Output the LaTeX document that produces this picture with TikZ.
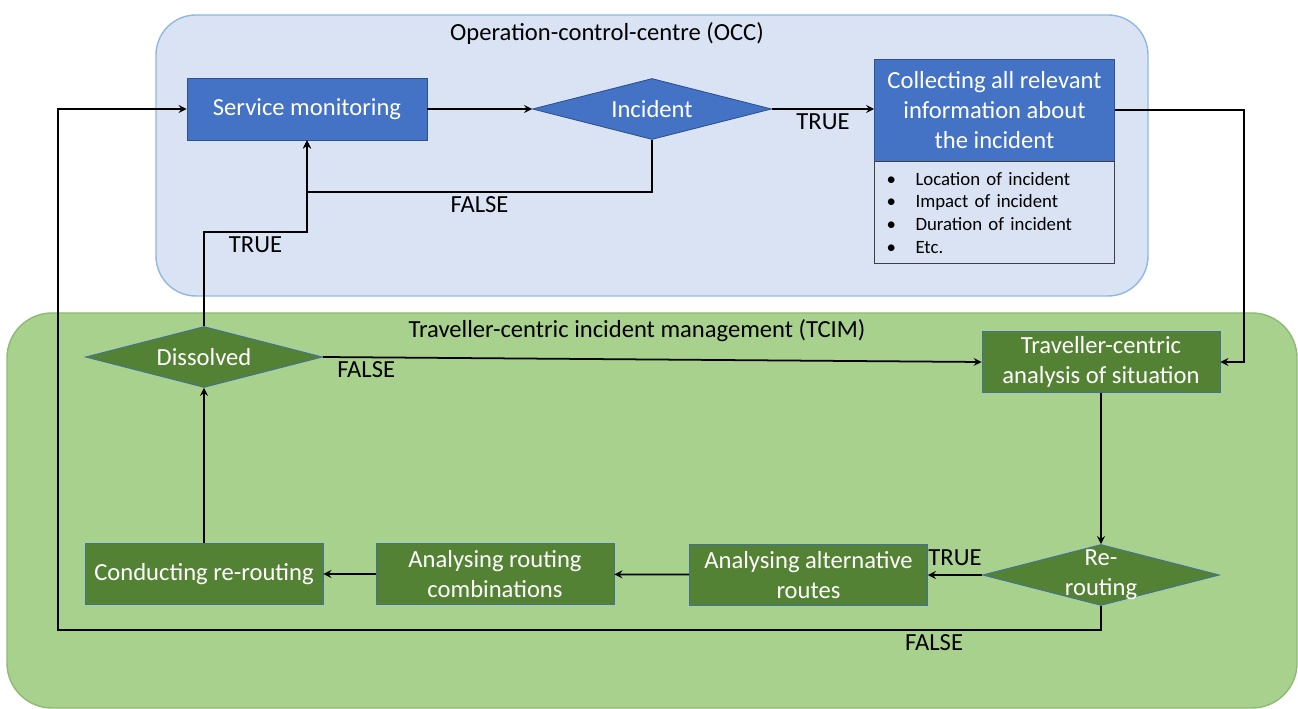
\documentclass[tikz,border=0pt]{standalone}
\usepackage{fontspec}
\setmainfont{Carlito}
\usetikzlibrary{arrows, shapes.geometric, positioning}

\definecolor{occfill}{HTML}{DAE3F3}
\definecolor{occline}{HTML}{8FB8E2}
\definecolor{tcimfill}{HTML}{A9D18E}
\definecolor{tcimline}{HTML}{8DBB72}
\definecolor{bluebox}{HTML}{4472C4}
\definecolor{blueline}{HTML}{2F528F}
\definecolor{greenbox}{HTML}{548235}
\definecolor{greenline}{HTML}{41719C}

\begin{document}
\begin{tikzpicture}[
                > = stealth, % arrow head style
                x = 0.02cm, y = -0.02cm, % one unit = one pixel of the sketch
                line width = 1pt, % line style
                font = \fontsize{14}{17}\selectfont
            ]

            \tikzstyle{occbox}=[draw = blueline, fill = bluebox, text = white,
            line width = 0.5pt, align = center, inner sep = 2pt,
            minimum width = 4.8cm, minimum height = 1.24cm]
            \tikzstyle{occdia}=[draw = blueline, fill = bluebox, diamond,
            line width = 0.5pt, inner sep = 0pt,
            minimum width = 4.78cm, minimum height = 1.22cm]
            \tikzstyle{tcimbox}=[draw = greenline, fill = greenbox, text = white,
            line width = 0.5pt, align = center, inner sep = 2pt,
            minimum width = 4.76cm, minimum height = 1.22cm]
            \tikzstyle{tcimdia}=[draw = greenline, fill = greenbox, diamond,
            line width = 0.5pt, inner sep = 0pt,
            minimum width = 4.74cm, minimum height = 1.22cm]
            \tikzstyle{listbox}=[draw = black!75, fill = occfill, line width = 0.6pt,
            align = left, inner sep = 0pt, text width = 4.8cm,
            minimum height = 2.04cm, font = \fontsize{10.7}{13}\selectfont]
            \tikzstyle{lbl}=[inner sep = 2pt]

            \useasboundingbox (0,0) rectangle (1298,709);

            % the two areas
            \draw[fill = occfill, draw = occline, line width = 0.8pt,
            rounded corners = 0.8cm] (156,15) rectangle (1148,296);
            \draw[fill = tcimfill, draw = tcimline, line width = 0.8pt,
            rounded corners = 0.9cm] (7,313) rectangle (1297,708);
            \node (occtitle) at (607,33) {Operation-control-centre (OCC)};
            \node (tcimtitle) at (637,331) {Traveller-centric incident management (TCIM)};

            % OCC
            \node[occbox] (monitor) at (307,109) {Service monitoring};
            \node[occdia, label = {[text = white]center:Incident}] (incident)
            at (652,109) {};
            \node[occbox, minimum height = 2.04cm] (collect) at (994.5,110)
            {Collecting all relevant\\information about\\the incident};
            \node[listbox, below = 0pt of collect] (details)
            {\makebox[0.82cm][l]{\hspace{0.24cm}\textbullet}Location of incident\\
             \makebox[0.82cm][l]{\hspace{0.24cm}\textbullet}Impact of incident\\
             \makebox[0.82cm][l]{\hspace{0.24cm}\textbullet}Duration of incident\\
             \makebox[0.82cm][l]{\hspace{0.24cm}\textbullet}Etc.};

            % TCIM
            \node[tcimbox] (situation) at (1101,362)
            {Traveller-centric\\analysis of situation};
            \node[tcimdia, label = {[text = white, align = center]center:Re-\\routing}]
            (rerouting) at (1101,575) {};
            \node[tcimbox] (alternatives) at (808.5,575)
            {Analysing alternative\\routes};
            \node[tcimbox] (combinations) at (495,574)
            {Analysing routing\\combinations};
            \node[tcimbox] (conducting) at (204,574) {Conducting re-routing};
            \node[tcimdia, label = {[text = white]center:Dissolved}] (dissolved)
            at (204,357) {};

            \coordinate (truejoin) at (307,232);
            \coordinate (backleft) at (58,630);

            \path[->] (monitor) edge (incident);
            \draw[->] (incident.east) -- node[lbl, below] {TRUE}
            (incident.east -| collect.west);
            \draw[->] (incident.south) -- ++(0,52) -| node[lbl, pos = 0.25, below]
            {FALSE} (monitor.south);
            \draw[->] (dissolved.north) |- node[lbl, pos = 0.75, below] {TRUE}
            (truejoin) -- (monitor.south);
            \draw[->] (collect.east) -- ++(129,0) |- (situation.east);
            \path[->] (situation) edge (rerouting);
            \draw[->] (rerouting) -- node[lbl, above, yshift = 0.1cm] {TRUE}
            (alternatives);
            \path[->] (alternatives) edge (combinations);
            \path[->] (combinations) edge (conducting);
            \path[->] (conducting) edge (dissolved);
            \draw[->] (dissolved.east) -- node[lbl, pos = 0, below right, xshift = 0.2cm]
            {FALSE} (situation.west);
            \draw[->] (rerouting.south) |- node[lbl, pos = 0.58, below] {FALSE}
            (backleft) |- (monitor.west);

        \end{tikzpicture}
\end{document}
